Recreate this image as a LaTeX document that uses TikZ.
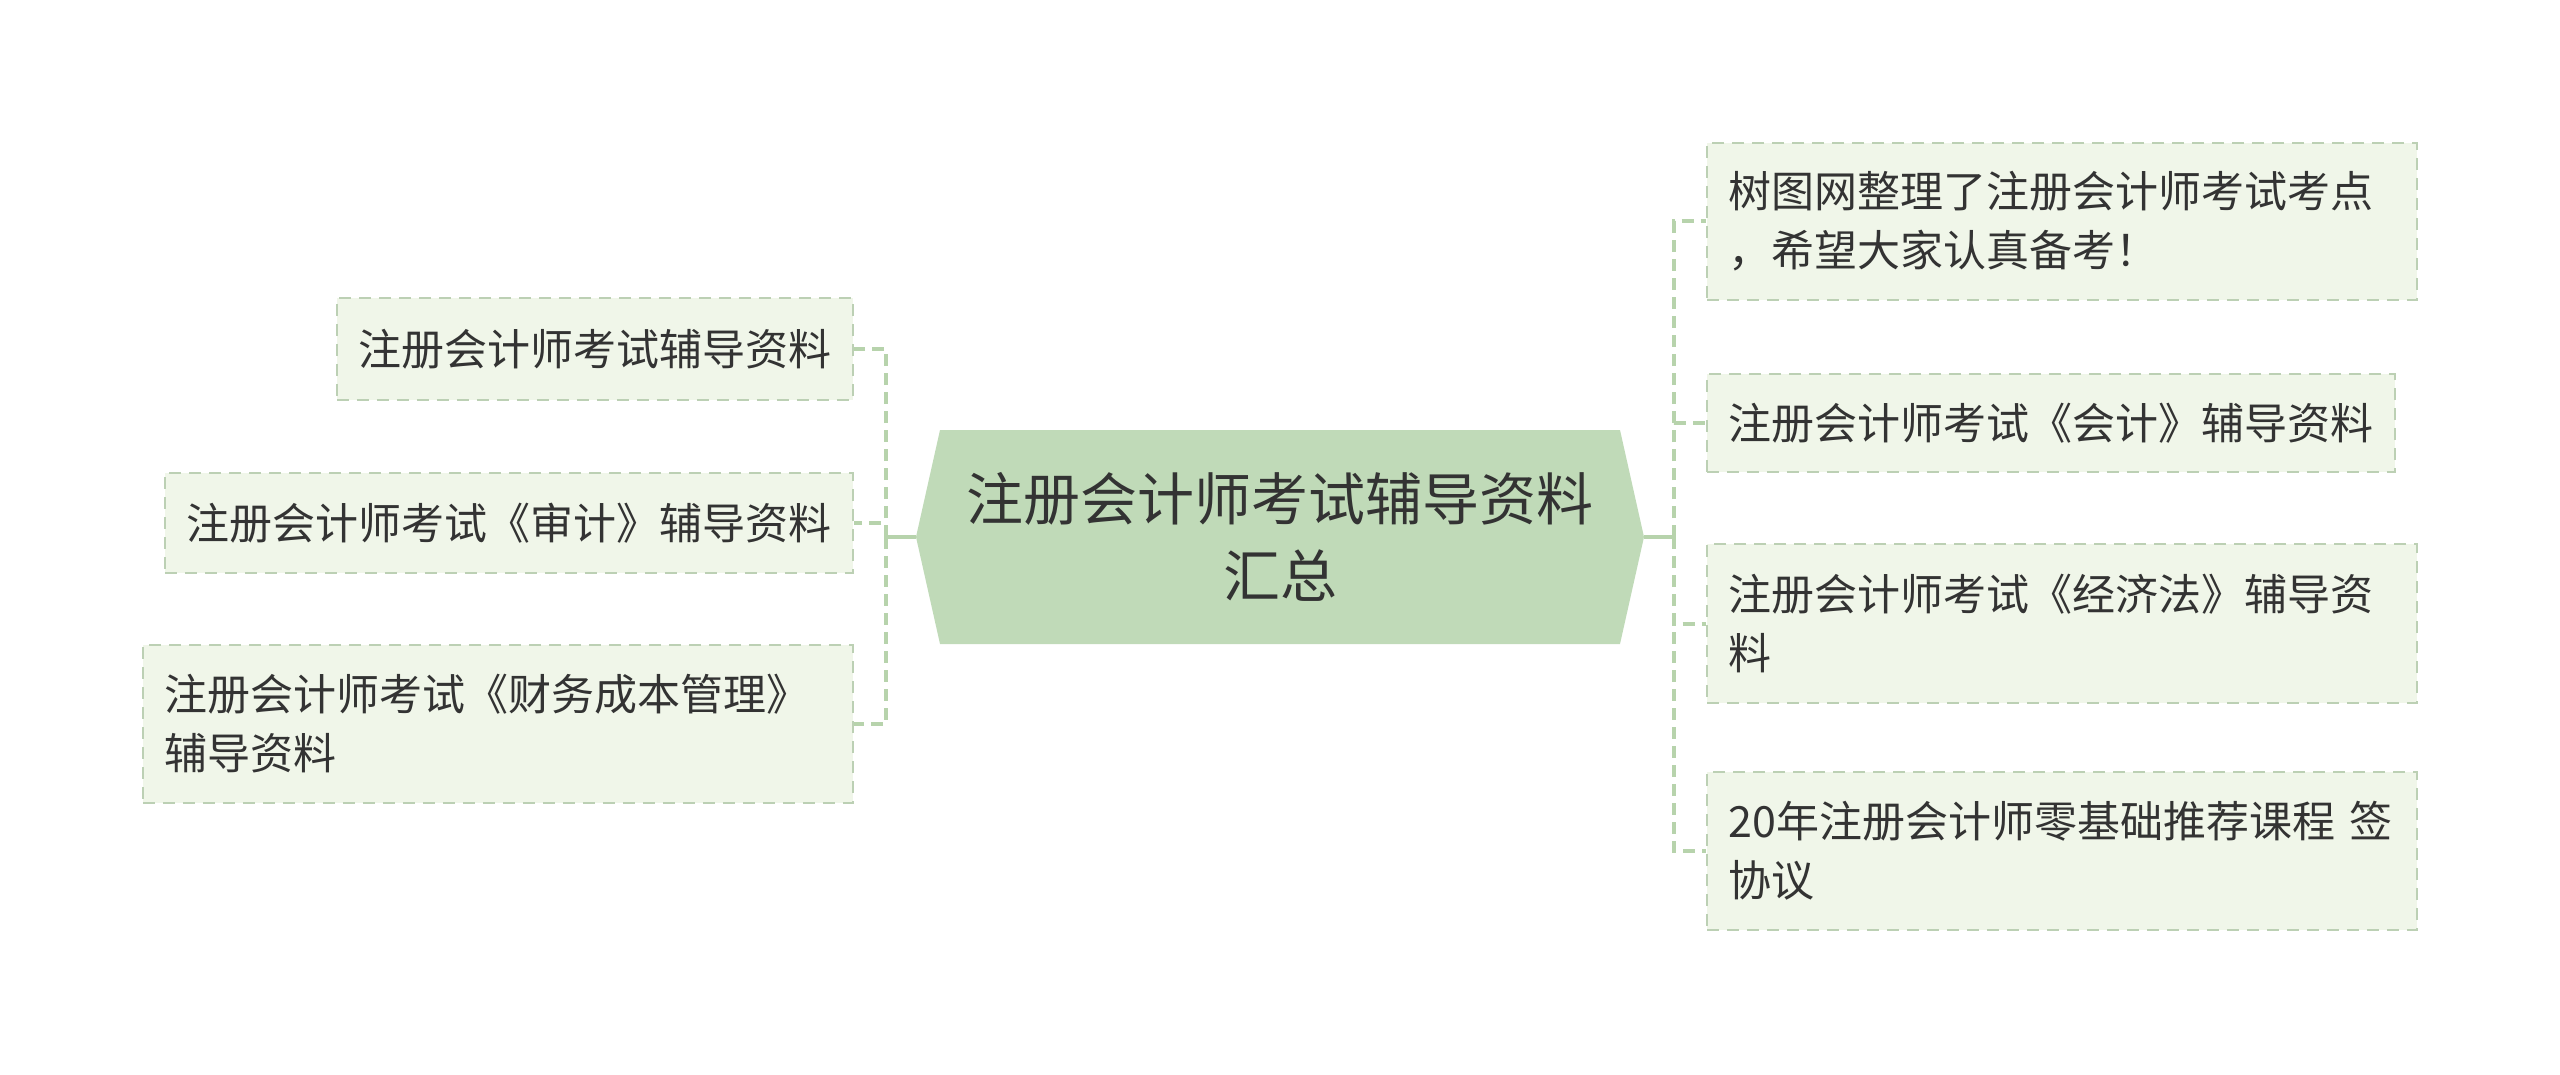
\documentclass[tikz,border=0pt]{standalone}
\usepackage{fontspec}
\setmainfont{Noto Sans CJK SC}
\definecolor{rootgreen}{RGB}{192,218,184}
\definecolor{leafgreen}{RGB}{240,246,233}
\definecolor{edgegreen}{RGB}{188,208,180}
\definecolor{linkgreen}{RGB}{183,211,172}
\definecolor{ink}{RGB}{51,51,51}
\tikzset{
  root/.style={minimum width=364pt,minimum height=107pt,align=center,text=ink,
    font=\fontsize{28.5pt}{38.5pt}\selectfont},
  leaf/.style={draw=edgegreen,fill=leafgreen,line width=1.2pt,dash pattern=on 6pt off 4pt,
    inner xsep=10.75pt,align=left,text=ink,font=\fontsize{21.5pt}{29.5pt}\selectfont},
  wide/.style={text width=333.5pt},
  link/.style={linkgreen,line width=2pt,dash pattern=on 6pt off 3.5pt},
  stem/.style={linkgreen,line width=2pt}
}
\begin{document}
\begin{tikzpicture}[x=0.5pt,y=-0.5pt]
\useasboundingbox (0,0) rectangle (2560,1075);
% centre
\fill[rootgreen] (916,537) -- (940,430) -- (1620,430) -- (1644,537) -- (1620,644) -- (940,644) -- cycle;
\node[root] (root) at (1280,537) {注册会计师考试辅导资料\\汇总};
\coordinate (jl) at (886,537);
\coordinate (jr) at (1674,537);
% left side
\node[leaf,anchor=east,minimum height=51pt] (l1) at (854,349) {注册会计师考试辅导资料};
\node[leaf,anchor=east,minimum height=50pt] (l2) at (854,523) {注册会计师考试《审计》辅导资料};
\node[leaf,wide,anchor=east,minimum height=79pt] (l3) at (854,724) {注册会计师考试《财务成本管理》\\辅导资料};
% right side
\node[leaf,wide,anchor=west,minimum height=78.5pt] (r1) at (1706,221.5) {树图网整理了注册会计师考试考点\\，希望大家认真备考！};
\node[leaf,anchor=west,minimum height=49pt] (r2) at (1706,423) {注册会计师考试《会计》辅导资料};
\node[leaf,wide,anchor=west,minimum height=79.5pt] (r3) at (1706,623.5) {注册会计师考试《经济法》辅导资\\料};
\node[leaf,wide,anchor=west,minimum height=79pt] (r4) at (1706,851) {20年注册会计师零基础推荐课程 签\\协议};
\draw[stem] (root.west) -- (jl);
\draw[stem] (root.east) -- (jr);
\foreach \n in {l1,l2,l3} {
\draw[link] (jl) |- (\n.east);
}
\foreach \n in {r1,r2,r3,r4} {
\draw[link] (jr) |- (\n.west);
}
\end{tikzpicture}
\end{document}
